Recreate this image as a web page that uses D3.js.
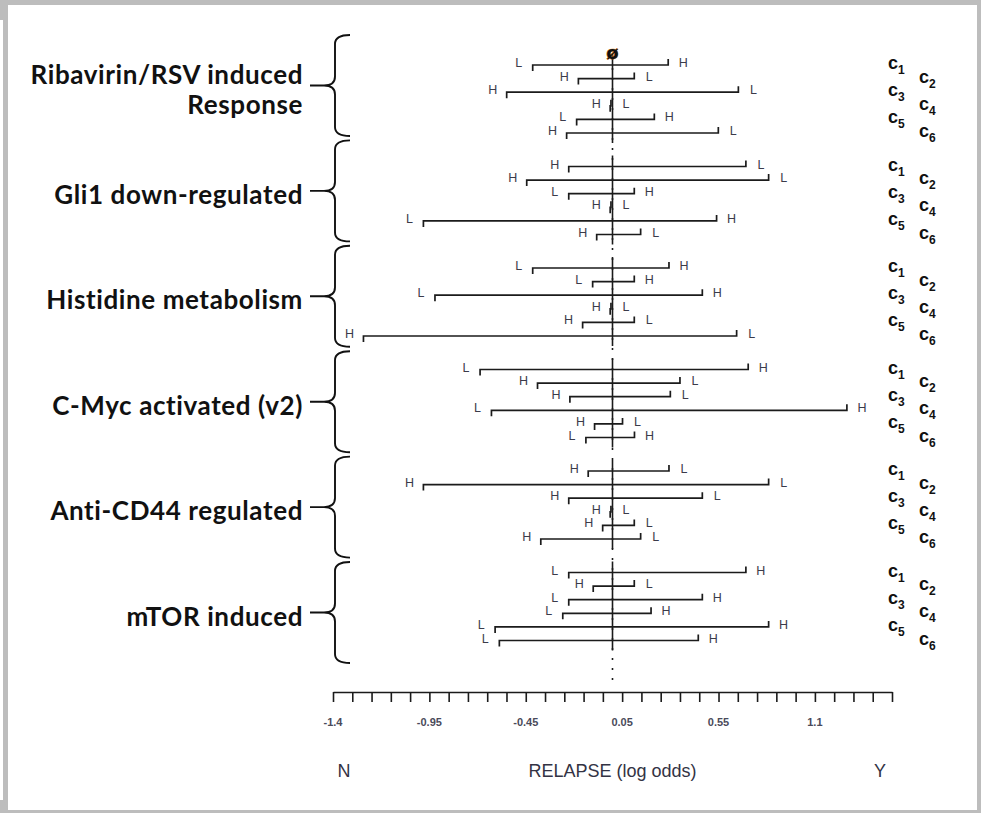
<!DOCTYPE html>
<html>
<head>
<meta charset="utf-8">
<script src="https://cdn.jsdelivr.net/npm/d3@7"></script>
<style>
  html, body { margin: 0; padding: 0; background: #fff; }
  svg { display: block; }
</style>
</head>
<body>
<svg id="chart" width="981" height="813"></svg>
<script>
// ---- data -------------------------------------------------------------
const groupNames = [
  ["Ribavirin/RSV induced", "Response"],
  ["Gli1 down-regulated"],
  ["Histidine metabolism"],
  ["C-Myc activated (v2)"],
  ["Anti-CD44 regulated"],
  ["mTOR induced"]
];
const cohorts = ["1", "2", "3", "4", "5", "6"];

// interval ends (log odds) per cohort; "left" is the letter at the lower end
const ribavirinLow  = [-0.414, -0.177, -0.549, -0.012, -0.186, -0.238];
const ribavirinHigh = [ 0.289,  0.113,  0.653, -0.008,  0.217,  0.549];
const ribavirinLeft = ["L", "H", "H", "H", "L", "H"];

const gli1Low  = [-0.227, -0.445, -0.227, -0.012, -0.981, -0.082];
const gli1High = [ 0.692,  0.810,  0.113, -0.008,  0.540,  0.146];
const gli1Left = ["H", "H", "L", "H", "L", "H"];

const histidineLow  = [-0.414, -0.103, -0.921, -0.012, -0.155, -1.292];
const histidineHigh = [ 0.293,  0.113,  0.466, -0.008,  0.113,  0.644];
const histidineLeft = ["L", "L", "L", "H", "H", "H"];

const cmycLow  = [-0.687, -0.389, -0.221, -0.628, -0.093, -0.138];
const cmycHigh = [ 0.704,  0.350,  0.300,  1.216,  0.052,  0.114];
const cmycLeft = ["L", "H", "H", "L", "H", "L"];

const cd44Low  = [-0.126, -0.981, -0.227, -0.012, -0.051, -0.372];
const cd44High = [ 0.293,  0.810,  0.466, -0.008,  0.113,  0.146];
const cd44Left = ["H", "H", "H", "H", "H", "H"];

const mtorLow  = [-0.227, -0.100, -0.227, -0.258, -0.609, -0.587];
const mtorHigh = [ 0.692,  0.113,  0.466,  0.200,  0.810,  0.445];
const mtorLeft = ["L", "H", "L", "L", "L", "L"];

const axisDomain = [-1.45, 1.45];
const tickValues = [-1.45, -0.95, -0.45, 0.05, 0.55, 1.05];
const tickLabels = ["-1.4", "-0.95", "-0.45", "0.05", "0.55", "1.1"];
const axisTitle = ["N", "RELAPSE  (log odds)", "Y"];

const groupLows  = [ribavirinLow, gli1Low, histidineLow, cmycLow, cd44Low, mtorLow];
const groupHighs = [ribavirinHigh, gli1High, histidineHigh, cmycHigh, cd44High, mtorHigh];
const groupLefts = [ribavirinLeft, gli1Left, histidineLeft, cmycLeft, cd44Left, mtorLeft];

// ---- layout -----------------------------------------------------------
const W = 981, H = 813;
const svg = d3.select("#chart");
const ink = "#1b1b1b";
const letterInk = "#3b3b4a";

const x = d3.scaleLinear().domain(axisDomain).range([333, 892]);
const groupIdx = d3.range(groupNames.length);
const groupY = d3.scalePoint().domain(groupIdx).range([65, 572.5]);
const rowY = d3.scalePoint().domain(cohorts).range([0, 68]);
const braceTop = d3.scalePoint().domain(groupIdx).range([35, 562]);
const braceH = 101;
const axisY = 692;

// page frame
svg.append("rect").attr("width", W).attr("height", H).attr("fill", "#fff");
const frame = svg.append("g").attr("fill", "#bdbdbd");
frame.append("rect").attr("x", 0).attr("y", 0).attr("width", W).attr("height", 5);
frame.append("rect").attr("x", 3).attr("y", 0).attr("width", 5).attr("height", H);
frame.append("rect").attr("x", 977).attr("y", 0).attr("width", 4).attr("height", H);
frame.append("rect").attr("x", 0).attr("y", 810).attr("width", W).attr("height", 3);
frame.append("path").attr("d", "M0,5L8,5L3,20L0,20Z");
frame.append("path").attr("d", "M0,800L3,800L8,810L0,810Z");

// null reference line: dotted full length, solid through each group
const zeroX = x(0);
svg.append("line")
  .attr("x1", zeroX).attr("x2", zeroX)
  .attr("y1", 58).attr("y2", axisY - 4)
  .attr("stroke", ink).attr("stroke-width", 1.6)
  .attr("stroke-dasharray", "2 8");
svg.append("g").selectAll("line").data(groupIdx).join("line")
  .attr("x1", zeroX).attr("x2", zeroX)
  .attr("y1", g => groupY(g) - 11)
  .attr("y2", g => groupY(g) + rowY(cohorts[cohorts.length - 1]) + 10)
  .attr("stroke", ink).attr("stroke-width", 1.6);

svg.append("text")
  .attr("x", zeroX).attr("y", 59)
  .attr("text-anchor", "middle")
  .attr("font-family", "DejaVu Sans, sans-serif")
  .attr("font-weight", "bold").attr("font-size", 18)
  .attr("fill", "#111").attr("stroke", "#e07a10").attr("stroke-width", 0.7)
  .attr("paint-order", "stroke")
  .text("ø");

// intervals
const rows = [];
groupIdx.forEach(g => {
  cohorts.forEach((c, i) => {
    rows.push({
      g, c,
      lo: groupLows[g][i], hi: groupHighs[g][i],
      left: groupLefts[g][i],
      right: groupLefts[g][i] === "L" ? "H" : "L",
      y: groupY(g) + rowY(c)
    });
  });
});

const rowG = svg.append("g").selectAll("g").data(rows).join("g");
rowG.append("path")
  .attr("d", d => `M${x(d.lo)},${d.y + 6}V${d.y}H${x(d.hi)}V${d.y - 6}`)
  .attr("fill", "none").attr("stroke", ink).attr("stroke-width", 1.7);
rowG.append("text")
  .attr("x", d => x(d.lo) - 14).attr("y", d => d.y + 2)
  .attr("text-anchor", "middle")
  .attr("font-family", "Liberation Sans, Arial, sans-serif")
  .attr("font-size", 12.5).attr("fill", letterInk)
  .text(d => d.left);
rowG.append("text")
  .attr("x", d => x(d.hi) + 15).attr("y", d => d.y + 2)
  .attr("text-anchor", "middle")
  .attr("font-family", "Liberation Sans, Arial, sans-serif")
  .attr("font-size", 12.5).attr("fill", letterInk)
  .text(d => d.right);

// cohort labels c1..c6 on the right
const cohortG = svg.append("g").selectAll("text").data(rows).join("text")
  .attr("x", d => (+d.c % 2 === 1) ? 888 : 919)
  .attr("y", d => d.y + 4)
  .attr("font-family", "Liberation Sans, Arial, sans-serif")
  .attr("font-weight", "bold").attr("fill", "#111");
cohortG.append("tspan").attr("font-size", 18).text("c");
cohortG.append("tspan").attr("font-size", 12).attr("dy", 5).text(d => d.c);

// braces and group names
const braceX = { tip: 310, spine: 335, arm: 350, r: 9 };
svg.append("g").selectAll("path").data(groupIdx).join("path")
  .attr("d", g => {
    const t = braceTop(g), b = t + braceH, m = (t + b) / 2;
    const { tip, spine, arm, r } = braceX;
    return `M${arm},${t}Q${spine},${t} ${spine},${t + r}` +
           `L${spine},${m - r}Q${spine},${m} ${tip + 14},${m}L${tip},${m}` +
           `M${tip + 14},${m}Q${spine},${m} ${spine},${m + r}` +
           `L${spine},${b - r}Q${spine},${b} ${arm},${b}`;
  })
  .attr("fill", "none").attr("stroke", "#111").attr("stroke-width", 1.9);

const labelG = svg.append("g").selectAll("text").data(groupIdx).join("text")
  .attr("text-anchor", "end")
  .attr("font-family", "Lato, 'Open Sans', sans-serif")
  .attr("font-weight", "bold").attr("font-size", 26)
  .attr("letter-spacing", 0.6).attr("fill", "#111")
  .attr("transform", g => {
    const m = braceTop(g) + braceH / 2;
    const n = groupNames[g].length;
    return `translate(303,${m + 13 - (n - 1) * 15})`;
  });
labelG.selectAll("tspan").data(g => groupNames[g]).join("tspan")
  .attr("x", 0).attr("dy", (d, i) => i === 0 ? 0 : 30)
  .text(d => d);

// axis
const axis = d3.axisBottom(x)
  .tickValues(d3.range(30).map(k => axisDomain[0] + 0.1 * k))
  .tickSize(10).tickSizeOuter(0).tickFormat("");
const axG = svg.append("g").attr("transform", `translate(0,${axisY})`).call(axis);
axG.select(".domain").attr("stroke", ink).attr("stroke-width", 1.6);
axG.selectAll(".tick line").attr("stroke", ink).attr("stroke-width", 1.6);

svg.append("g").selectAll("text").data(tickValues).join("text")
  .attr("x", d => x(d)).attr("y", axisY + 34)
  .attr("text-anchor", "middle")
  .attr("font-family", "Liberation Sans, Arial, sans-serif")
  .attr("font-size", 11).attr("font-weight", "bold").attr("fill", "#4a4a5a")
  .text((d, i) => tickLabels[i]);

const titleX = [344, zeroX, 880];
svg.append("g").selectAll("text").data(axisTitle).join("text")
  .attr("x", (d, i) => titleX[i]).attr("y", 777)
  .attr("text-anchor", "middle")
  .attr("font-family", "Liberation Sans, Arial, sans-serif")
  .attr("font-size", 18).attr("fill", "#333344")
  .text(d => d);
</script>
</body>
</html>
